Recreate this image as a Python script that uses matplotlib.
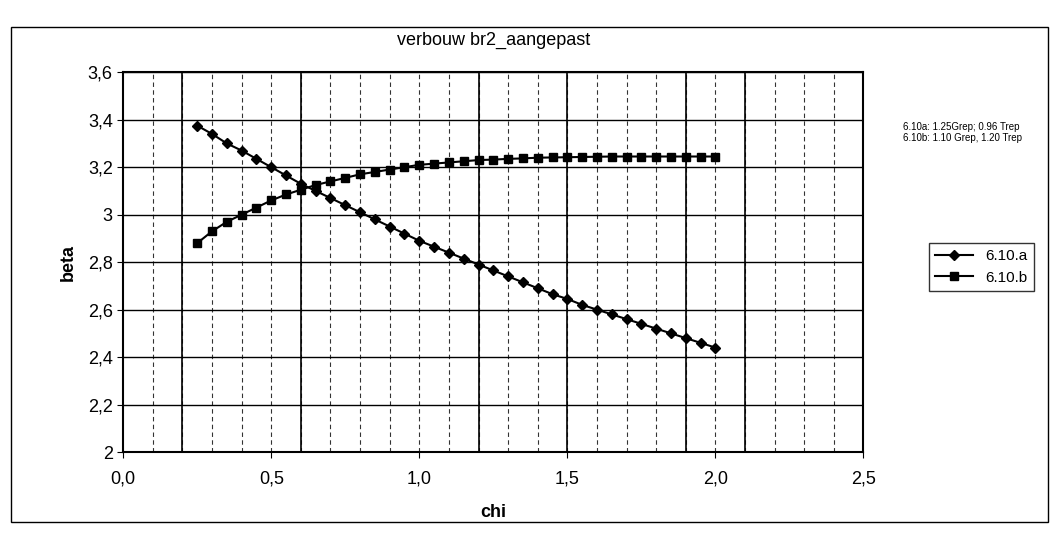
import matplotlib.pyplot as plt
import numpy as np

plt.rcParams['font.family'] = ['Liberation Sans', 'DejaVu Sans']

# chi values (0.25 .. 2.0 in steps of 0.05)
chi = [0.25, 0.30, 0.35, 0.40, 0.45, 0.50, 0.55, 0.60, 0.65, 0.70, 0.75, 0.80,
       0.85, 0.90, 0.95, 1.00, 1.05, 1.10, 1.15, 1.20, 1.25, 1.30, 1.35, 1.40,
       1.45, 1.50, 1.55, 1.60, 1.65, 1.70, 1.75, 1.80, 1.85, 1.90, 1.95, 2.00]

# beta, 6.10.a
beta_a = [3.375, 3.34, 3.30, 3.27, 3.235, 3.20, 3.165, 3.13, 3.10, 3.07, 3.04, 3.01,
          2.98, 2.95, 2.92, 2.89, 2.865, 2.84, 2.815, 2.79, 2.765, 2.74, 2.715, 2.69,
          2.665, 2.645, 2.62, 2.60, 2.58, 2.56, 2.54, 2.52, 2.50, 2.48, 2.46, 2.44]

# beta, 6.10.b
beta_b = [2.88, 2.93, 2.97, 3.00, 3.03, 3.06, 3.085, 3.105, 3.125, 3.14, 3.155, 3.17,
          3.18, 3.19, 3.20, 3.21, 3.215, 3.22, 3.225, 3.23, 3.232, 3.235, 3.237, 3.24,
          3.241, 3.242, 3.243, 3.244, 3.245, 3.245, 3.245, 3.245, 3.245, 3.245, 3.245, 3.245]

labels = ['6.10.a', '6.10.b']
notes = ['6.10a: 1.25Grep; 0.96 Trep', '6.10b: 1.10 Grep, 1.20 Trep']

fig = plt.figure(figsize=(10.53, 5.35), dpi=100)
ax = fig.add_axes([0.117, 0.155, 0.703, 0.71])

# outer chart frame
frame = plt.Rectangle((0.01, 0.025), 0.985, 0.925, transform=fig.transFigure,
                      fill=False, edgecolor='black', linewidth=1.0)
fig.patches.append(frame)

# grid: horizontal major lines, vertical dashed minor lines + some solid ones
for y in np.arange(2.2, 3.61, 0.2):
    ax.axhline(y, color='black', linewidth=1.0, zorder=1)
for x in np.arange(0.1, 2.5, 0.1):
    ax.axvline(x, color='black', linewidth=0.8, linestyle=(0, (4, 3)), alpha=0.8, zorder=1)
for x in [0.2, 0.6, 1.2, 1.5, 1.9, 2.1]:
    ax.axvline(x, color='black', linewidth=1.2, zorder=1)

ax.plot(chi, beta_a, color='black', marker='D', markersize=5.5, linewidth=1.5,
        label=labels[0], zorder=3)
ax.plot(chi, beta_b, color='black', marker='s', markersize=5.5, linewidth=1.5,
        label=labels[1], zorder=3)

ax.set_xlim(0, 2.5)
ax.set_ylim(2, 3.6)
ax.set_xticks(np.arange(0, 2.51, 0.5))
ax.set_xticklabels(['0,0', '0,5', '1,0', '1,5', '2,0', '2,5'])
ax.set_yticks(np.arange(2, 3.61, 0.2))
ax.set_yticklabels(['2', '2,2', '2,4', '2,6', '2,8', '3', '3,2', '3,4', '3,6'])
ax.tick_params(labelsize=13, length=4, color='black')
ax.tick_params(axis='x', pad=9)
for s in ax.spines.values():
    s.set_linewidth(1.5)

ax.set_xlabel('chi', fontsize=13, fontweight='bold', labelpad=12)
ax.set_ylabel('beta', fontsize=13, fontweight='bold', labelpad=8)
ax.set_title('verbouw br2_aangepast', fontsize=13, pad=20)

fig.text(0.858, 0.757, notes[0], fontsize=7, clip_on=False)
fig.text(0.858, 0.737, notes[1], fontsize=7, clip_on=False)

leg = fig.legend(loc='upper left', bbox_to_anchor=(0.875, 0.56), fontsize=11,
                 frameon=True, fancybox=False, edgecolor='black', handlelength=2.5,
                 borderpad=0.4, labelspacing=0.5)
leg.get_frame().set_linewidth(1.0)

fig.savefig('out.png', dpi=100)
plt.close()
